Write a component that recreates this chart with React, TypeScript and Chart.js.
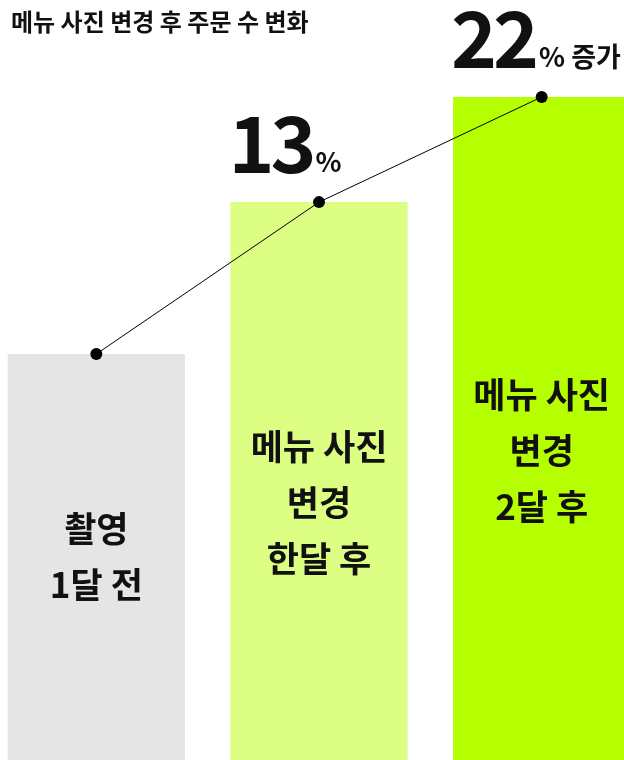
import React, { useEffect, useRef } from "react";
import { Chart, registerables } from "chart.js";

Chart.register(...registerables);

const title = "메뉴 사진 변경 후 주문 수 변화";
const categories = ["1달 전", "한달 후", "2달 후"];
const orderIndex = [100, 113, 122];
const barLabels = [["촬영", "1달 전"], ["메뉴 사진", "변경", "한달 후"], ["메뉴 사진", "변경", "2달 후"]];
const changeNumbers = ["", "13", "22"];
const changeSuffixes = ["", "%", "% 증가"];
const barColors = ["#e5e5e5", "#dbfe83", "#b5ff00"];

const FONT = '"Noto Sans CJK KR", "Noto Sans", sans-serif';
const OFFSET_X = 15;

function drawTexts(chart: any) {
  const ctx = chart.ctx as CanvasRenderingContext2D;
  const meta = chart.getDatasetMeta(1);
  const bottom = chart.chartArea.bottom;
  ctx.save();
  ctx.fillStyle = "#111111";
  ctx.font = `bold 24px ${FONT}`;
  ctx.textAlign = "left";
  ctx.textBaseline = "middle";
  (ctx as any).letterSpacing = "0px";
  ctx.fillText(title, 11 + OFFSET_X, 22);

  meta.data.forEach((bar: any, i: number) => {
    const left = bar.x - bar.width / 2;
    const lines = barLabels[i];
    const lh = 56;
    const mid = (bar.y + bottom) / 2 + (lines.length - 2) * 22;
    ctx.font = `bold 35px ${FONT}`;
    ctx.textAlign = "center";
    ctx.textBaseline = "middle";
    lines.forEach((ln, j) => {
      const y = mid + (j - (lines.length - 1) / 2) * lh;
      ctx.fillText(ln, bar.x, y);
    });
    if (changeNumbers[i]) {
      ctx.textAlign = "left";
      ctx.textBaseline = "alphabetic";
      ctx.font = `bold 78px ${FONT}`;
      (ctx as any).letterSpacing = "-4px";
      const base = bar.y - 29;
      const x0 = left - 2;
      ctx.fillText(changeNumbers[i], x0, base);
      const m = ctx.measureText(changeNumbers[i]);
      (ctx as any).letterSpacing = "0px";
      ctx.font = `bold 27px ${FONT}`;
      ctx.fillText(changeSuffixes[i], x0 + m.actualBoundingBoxRight + 3, base - 1);
    }
  });
  ctx.restore();
}

export default function App() {
  const ref = useRef<HTMLCanvasElement>(null);
  useEffect(() => {
    document.body.style.margin = "0";
    document.body.style.overflow = "hidden";
    const chart = new Chart(ref.current as HTMLCanvasElement, {
      data: {
        labels: categories,
        datasets: [
          {
            type: "line",
            data: orderIndex,
            borderColor: "#000000",
            borderWidth: 1,
            pointRadius: 6,
            pointBackgroundColor: "#000000",
            pointBorderWidth: 0,
            order: 0,
          } as any,
          {
            type: "bar",
            data: orderIndex,
            backgroundColor: barColors,
            categoryPercentage: 0.8,
            barPercentage: 0.995,
            order: 1,
          } as any,
        ],
      },
      options: {
        animation: false,
        responsive: false,
        maintainAspectRatio: false,
        layout: { padding: 0, autoPadding: false } as any,
        plugins: { legend: { display: false }, tooltip: { enabled: false }, title: { display: false } },
        scales: {
          x: { display: false, offset: true },
          y: { display: false, min: 65.25, max: 130.3 },
        },
      },
      plugins: [{ id: "texts", afterDatasetsDraw: (c: any) => drawTexts(c) }],
    });
    return () => chart.destroy();
  }, []);
  return (
    <div style={{ position: "relative", width: 624, height: 760, overflow: "hidden", background: "#ffffff" }}>
      <canvas ref={ref} width={668} height={760} style={{ position: "absolute", left: -OFFSET_X, top: 0, width: 668, height: 760 }} />
    </div>
  );
}
